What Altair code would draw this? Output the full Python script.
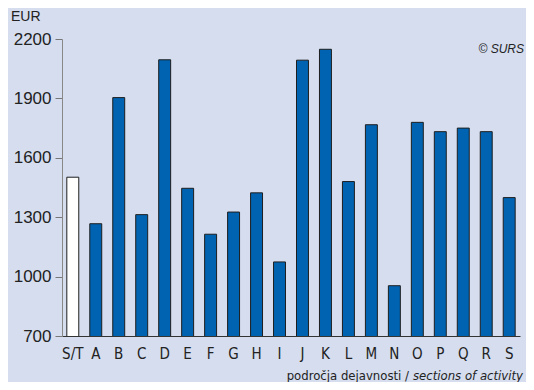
import altair as alt
import pandas as pd

categories = ["S/T", "A", "B", "C", "D", "E", "F", "G", "H", "I", "J",
              "K", "L", "M", "N", "O", "P", "Q", "R", "S"]
values = [1502, 1267, 1904, 1313, 2095, 1446, 1214, 1326, 1423, 1074, 2093,
          2148, 1480, 1767, 954, 1779, 1732, 1750, 1732, 1399]
fills = ["total"] + ["section"] * 19
y_ticks = [700, 1000, 1300, 1600, 1900, 2200]

df = pd.DataFrame({"cat": categories, "val": values, "kind": fills})

W, H = 458, 297
BG = "#d5ddef"
NARROW = "DejaVu Sans Condensed"
SANS = "Liberation Sans, Arial, sans-serif"

bars = alt.Chart(df).mark_bar(stroke="#1e1e1e", strokeWidth=1, clip=True).encode(
    x=alt.X("cat:N", sort=categories,
            scale=alt.Scale(paddingInner=0.48, paddingOuter=0.21),
            axis=alt.Axis(title=None, labelAngle=0, ticks=False, labelPadding=10,
                          labelFont=NARROW, labelFontSize=15, labelColor="#222",
                          domainColor="#333", domainWidth=1.2)),
    y=alt.Y("val:Q", scale=alt.Scale(domain=[700, 2200], zero=False, nice=False),
            axis=alt.Axis(title=None, values=y_ticks, grid=False, tickSize=7,
                          format="d",
                          tickColor="#777", domainColor="#888", labelPadding=4,
                          labelFont=SANS, labelFontSize=17, labelColor="#222")),
    color=alt.Color("kind:N", scale=alt.Scale(domain=["total", "section"],
                                              range=["#ffffff", "#0063b1"]),
                    legend=None),
)

one = pd.DataFrame({"a": [0]})

eur = alt.Chart(one).mark_text(text="EUR", align="left", baseline="middle",
                               font=SANS, fontSize=14, color="#222").encode(
    x=alt.value(-51), y=alt.value(-22))

surs = alt.Chart(one).mark_text(text="© SURS", align="right", baseline="middle",
                                font=SANS, fontSize=12, fontStyle="italic",
                                color="#222").encode(
    x=alt.value(W + 4), y=alt.value(10))

title_it = alt.Chart(one).mark_text(text="sections of activity", align="right",
                                    baseline="middle", font=NARROW, fontSize=13,
                                    fontStyle="italic", color="#222").encode(
    x=alt.value(W + 3), y=alt.value(337))

title_reg = alt.Chart(one).mark_text(text="področja dejavnosti /", align="right",
                                     baseline="middle", font=NARROW, fontSize=13,
                                     color="#222").encode(
    x=alt.value(W + 3 - 114), y=alt.value(337))

chart = alt.layer(bars, eur, surs, title_it, title_reg).properties(
    width=W, height=H, background=BG,
    padding={"left": 54, "top": 31, "right": 6, "bottom": 46},
    autosize=alt.AutoSizeParams(type="none"),
).configure_view(stroke=None)

chart.save("out.html", embed_options={"renderer": "svg", "actions": False})
